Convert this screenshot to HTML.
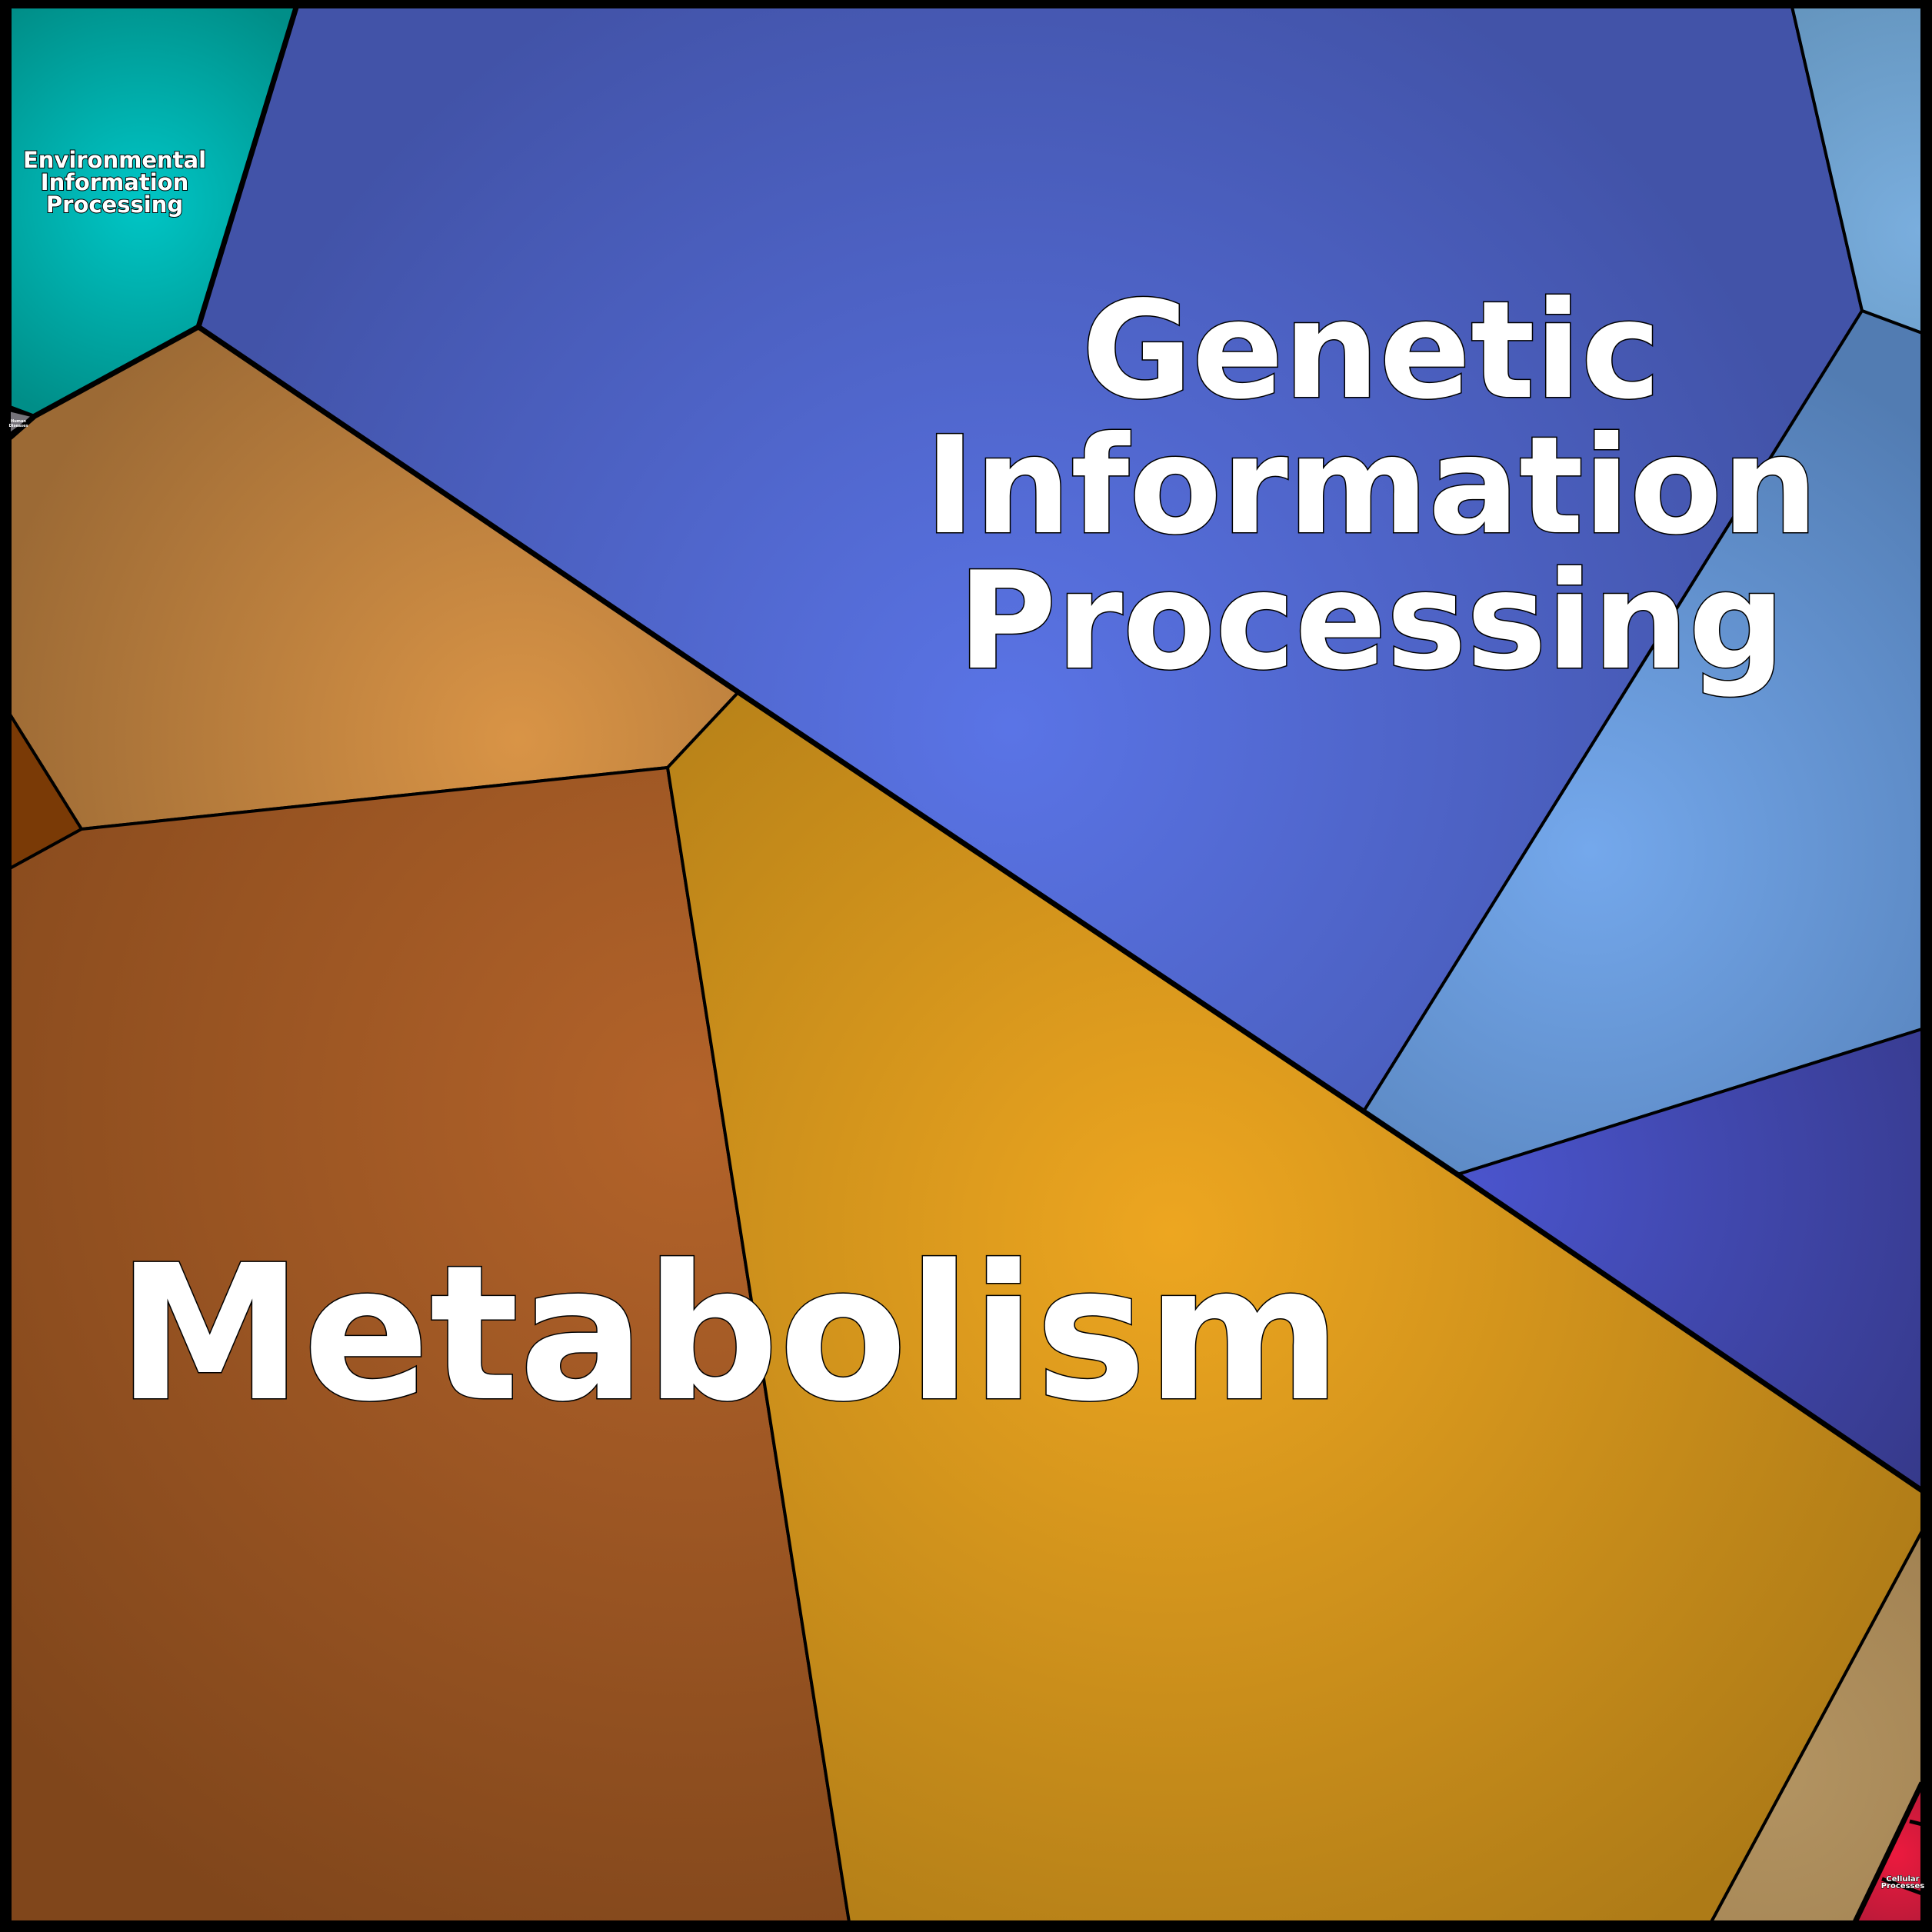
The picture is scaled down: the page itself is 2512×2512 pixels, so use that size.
<!DOCTYPE html>
<html><head><meta charset="utf-8"><style>html,body{margin:0;padding:0;background:#000}svg{display:block}text{font-family:"DejaVu Sans","Liberation Sans",sans-serif;font-weight:bold;fill:#fff;stroke:#000;paint-order:stroke;text-anchor:middle}</style></head><body>
<svg width="2512" height="2512" viewBox="0 0 2512 2512" xmlns="http://www.w3.org/2000/svg">
<defs>
<radialGradient id="gBlue" gradientUnits="userSpaceOnUse" cx="1313" cy="945" r="1100"><stop offset="0" stop-color="#5a74e6"/><stop offset="1" stop-color="#4253a8"/></radialGradient>
<radialGradient id="gTeal" gradientUnits="userSpaceOnUse" cx="184" cy="264" r="300"><stop offset="0" stop-color="#00c6c6"/><stop offset="1" stop-color="#008e88"/></radialGradient>
<radialGradient id="gLB" gradientUnits="userSpaceOnUse" cx="673" cy="961" r="700"><stop offset="0" stop-color="#d99446"/><stop offset="1" stop-color="#9c6a35"/></radialGradient>
<radialGradient id="gBr" gradientUnits="userSpaceOnUse" cx="897" cy="1442" r="1200"><stop offset="0" stop-color="#b3632a"/><stop offset="1" stop-color="#80461b"/></radialGradient>
<radialGradient id="gGold" gradientUnits="userSpaceOnUse" cx="1522" cy="1602" r="1100"><stop offset="0" stop-color="#eda620"/><stop offset="1" stop-color="#ae7b17"/></radialGradient>
<radialGradient id="gLBl" gradientUnits="userSpaceOnUse" cx="2067" cy="1105" r="700"><stop offset="0" stop-color="#74a8ec"/><stop offset="1" stop-color="#527cb2"/></radialGradient>
<radialGradient id="gTR" gradientUnits="userSpaceOnUse" cx="2499" cy="300" r="400"><stop offset="0" stop-color="#7aaede"/><stop offset="1" stop-color="#6090b8"/></radialGradient>
<radialGradient id="gDB" gradientUnits="userSpaceOnUse" cx="1922" cy="1538" r="700"><stop offset="0" stop-color="#4a54cc"/><stop offset="1" stop-color="#36398a"/></radialGradient>
<radialGradient id="gTan" gradientUnits="userSpaceOnUse" cx="2300" cy="2300" r="400"><stop offset="0" stop-color="#b39462"/><stop offset="1" stop-color="#a08050"/></radialGradient>
<radialGradient id="gRed" gradientUnits="userSpaceOnUse" cx="2465" cy="2410" r="120"><stop offset="0" stop-color="#ec1a3e"/><stop offset="1" stop-color="#b01a38"/></radialGradient>
</defs>
<rect width="2512" height="2512" fill="#000"/>
<g stroke="#000" stroke-width="4" stroke-linejoin="round">
<polygon fill="url(#gBlue)" points="388,0 2328,0 2421,404 1773,1445 960,900 258,425"/>
<polygon fill="url(#gTeal)" points="13,0 388,0 258,425 45,541 13,529"/>
<polygon fill="#76737a" points="12,533 45,541 12,565"/>
<polygon fill="url(#gLB)" points="13,569 45,541 258,425 960,900 868,998 106,1078 13,929"/>
<polygon fill="#7a3a06" points="13,929 106,1078 13,1129"/>
<polygon fill="url(#gBr)" points="13,1129 106,1078 868,998 1104,2499 13,2499"/>
<polygon fill="url(#gGold)" points="868,998 960,900 1773,1445 1895,1527 2499,1938 2499,1991 2225,2499 1104,2499"/>
<polygon fill="url(#gTR)" points="2328,0 2499,0 2499,433 2421,404"/>
<polygon fill="url(#gLBl)" points="2421,404 2499,433 2499,1338 1895,1527 1773,1445"/>
<polygon fill="url(#gDB)" points="1895,1527 2499,1338 2499,1938"/>
<polygon fill="url(#gTan)" points="2499,1991 2499,2318 2412,2499 2225,2499"/>
<polygon fill="url(#gRed)" points="2499,2318 2499,2499 2412,2499"/>
</g>
<g stroke="#000" stroke-width="7" fill="none">
<polyline points="388,0 258,425 45,541 13,569"/>
<polyline points="258,425 960,900 1773,1445 1895,1527 2499,1938"/>
<polyline points="2499,2318 2412,2499"/>
</g>
<g stroke="#000" stroke-width="5" fill="none">
<line x1="2483" y1="2368" x2="2499" y2="2372"/>
<line x1="2447" y1="2443" x2="2499" y2="2462"/>
</g>
<rect x="5" y="5" width="2502" height="2502" fill="none" stroke="#000" stroke-width="12"/>
<text x="1783" y="516" font-size="175" stroke-width="3">Genetic</text>
<text x="1783" y="692" font-size="175" stroke-width="3">Information</text>
<text x="1783" y="868" font-size="175" stroke-width="3">Processing</text>
<text x="948" y="1818" font-size="243" stroke-width="3">Metabolism</text>
<text x="149" y="218" font-size="29" stroke-width="2">Environmental</text>
<text x="149" y="247" font-size="29" stroke-width="2">Information</text>
<text x="149" y="276" font-size="29" stroke-width="2">Processing</text>
<text x="2474" y="2446" font-size="10" stroke-width="1">Cellular</text>
<text x="2474" y="2455" font-size="10" stroke-width="1">Processes</text>
<text x="24" y="549" font-size="5" stroke-width="0">Human</text>
<text x="24" y="555" font-size="5" stroke-width="0">Diseases</text>
</svg>
</body></html>
